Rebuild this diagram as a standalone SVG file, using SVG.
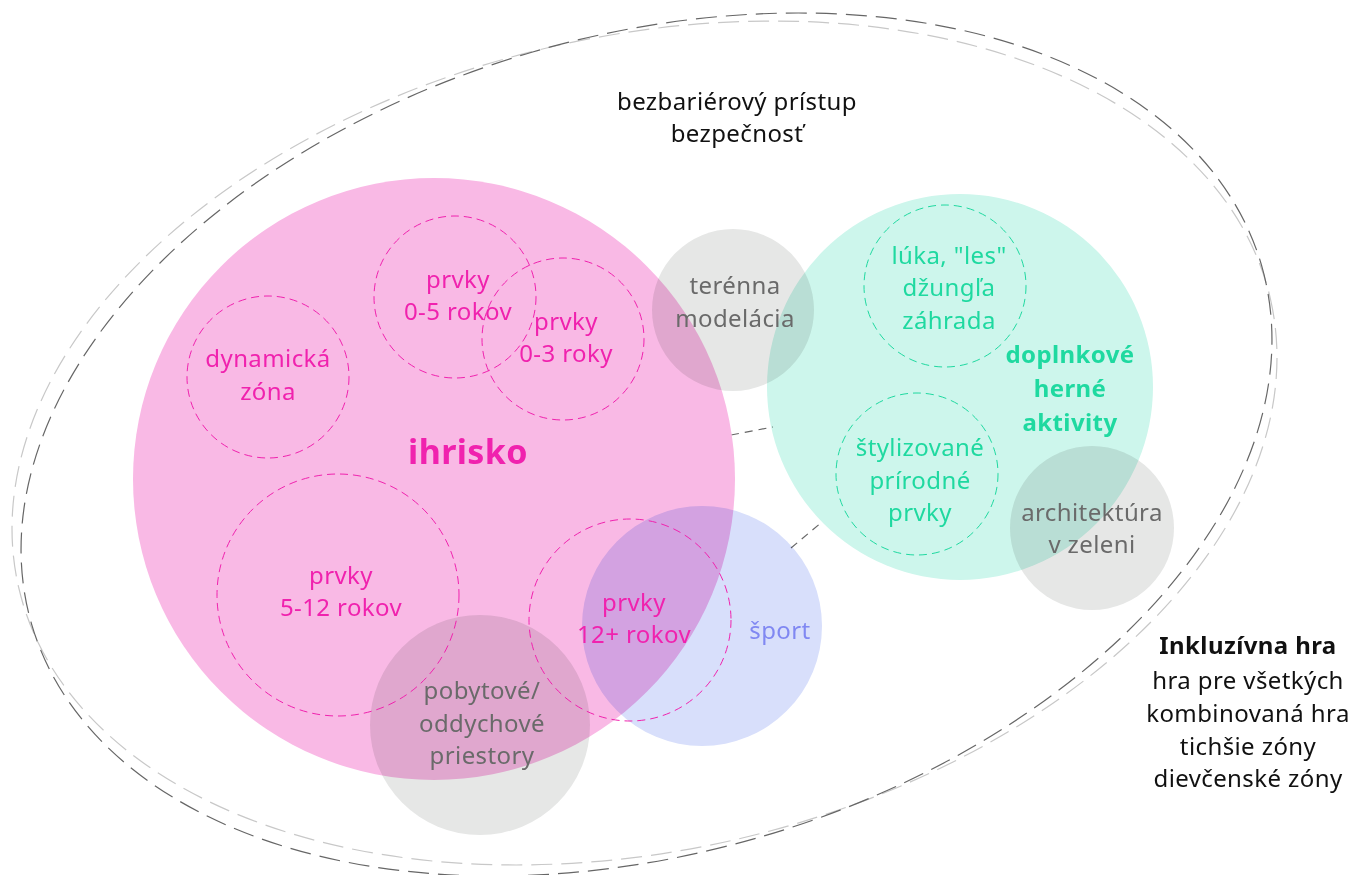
<svg xmlns="http://www.w3.org/2000/svg" width="1349" height="875" viewBox="0 0 1349 875">
<style>
text{font-family:"Noto Sans","Liberation Sans",sans-serif;font-size:24px;letter-spacing:0.4px;text-anchor:middle}
.b{font-weight:bold}
.pk{fill:#f022ae}
.mt{fill:#1fd9a0}
.gy{fill:#6a6a6a}
.bl{fill:#8088f2}
.dk{fill:#111}
.blend{mix-blend-mode:multiply}
.dpk{fill:none;stroke:#f022ae;stroke-width:1;stroke-dasharray:8 5}
.dmt{fill:none;stroke:#1fd9a0;stroke-width:1;stroke-dasharray:8 5}
.outer{fill:none;stroke-width:1.2;stroke-dasharray:21 9}
.conn{stroke:#666;stroke-width:1.2;stroke-dasharray:8 6;fill:none}
</style>
<rect width="1349" height="875" fill="#fff"/>
<g id="boundary">
<ellipse class="outer" cx="644.5" cy="443" rx="642.3" ry="406.9" stroke="#c8c8c8" transform="rotate(-13 644.5 443)"/>
<ellipse class="outer" cx="646.5" cy="444.5" rx="640.6" ry="408.7" stroke="#666" transform="rotate(-16.3 646.5 444.5)"/>
<text class="dk" x="737" y="110">bezbariérový prístup</text>
<text class="dk" x="737" y="142">bezpečnosť</text>
</g>
<g id="connectors">
<line class="conn" x1="731" y1="435" x2="773" y2="427"/>
<line class="conn" x1="791" y1="548" x2="822" y2="522"/>
</g>
<g id="ihrisko">
<circle cx="434" cy="479" r="301" fill="#f9b9e5"/>
</g>
<g id="doplnkove">
<circle class="blend" cx="960" cy="387" r="193" fill="#cdf6ec"/>
</g>
<g id="terenna">
<circle class="blend" cx="733" cy="310" r="81" fill="#e6e7e6"/>
<text class="gy" x="735" y="294">terénna</text>
<text class="gy" x="735" y="327">modelácia</text>
</g>
<g id="architektura">
<circle class="blend" cx="1092" cy="528" r="82" fill="#e6e7e6"/>
<text class="gy" x="1092" y="521">architektúra</text>
<text class="gy" x="1092" y="553">v zeleni</text>
</g>
<g id="sport">
<circle class="blend" cx="702" cy="626" r="120" fill="#d8dffb"/>
<text class="bl" x="780" y="639">šport</text>
</g>
<g id="pobytove">
<circle class="blend" cx="480" cy="725" r="110" fill="#e6e7e6"/>
<text class="gy" x="482" y="699">pobytové/</text>
<text class="gy" x="482" y="732">oddychové</text>
<text class="gy" x="482" y="764">priestory</text>
</g>
<g id="ihrisko-label">
<text class="pk b" x="468" y="464" style="font-size:34px">ihrisko</text>
</g>
<g id="dynamicka">
<circle class="dpk" cx="268" cy="377" r="81"/>
<text class="pk" x="268" y="367">dynamická</text>
<text class="pk" x="268" y="400">zóna</text>
</g>
<g id="prvky05">
<circle class="dpk" cx="455" cy="297" r="81"/>
<text class="pk" x="458" y="288">prvky</text>
<text class="pk" x="458" y="320">0-5 rokov</text>
</g>
<g id="prvky03">
<circle class="dpk" cx="563" cy="339" r="81"/>
<text class="pk" x="566" y="330">prvky</text>
<text class="pk" x="566" y="362">0-3 roky</text>
</g>
<g id="prvky512">
<circle class="dpk" cx="338" cy="595" r="121"/>
<text class="pk" x="341" y="584">prvky</text>
<text class="pk" x="341" y="616">5-12 rokov</text>
</g>
<g id="prvky12">
<circle class="dpk" cx="630" cy="620" r="101"/>
<text class="pk" x="634" y="611">prvky</text>
<text class="pk" x="634" y="643">12+ rokov</text>
</g>
<g id="luka">
<circle class="dmt" cx="945" cy="286" r="81"/>
<text class="mt" x="949" y="264">lúka, "les"</text>
<text class="mt" x="949" y="296">džungľa</text>
<text class="mt" x="949" y="329">záhrada</text>
</g>
<g id="doplnkove-label">
<text class="mt b" x="1070" y="363">doplnkové</text>
<text class="mt b" x="1070" y="397">herné</text>
<text class="mt b" x="1070" y="431">aktivity</text>
</g>
<g id="stylizovane">
<circle class="dmt" cx="917" cy="474" r="81"/>
<text class="mt" x="920" y="456">štylizované</text>
<text class="mt" x="920" y="489">prírodné</text>
<text class="mt" x="920" y="521">prvky</text>
</g>
<g id="inkluzivna">
<text class="dk b" x="1248" y="654">Inkluzívna hra</text>
<text class="dk" x="1248" y="689">hra pre všetkých</text>
<text class="dk" x="1248" y="722">kombinovaná hra</text>
<text class="dk" x="1248" y="755">tichšie zóny</text>
<text class="dk" x="1248" y="787">dievčenské zóny</text>
</g>
</svg>
